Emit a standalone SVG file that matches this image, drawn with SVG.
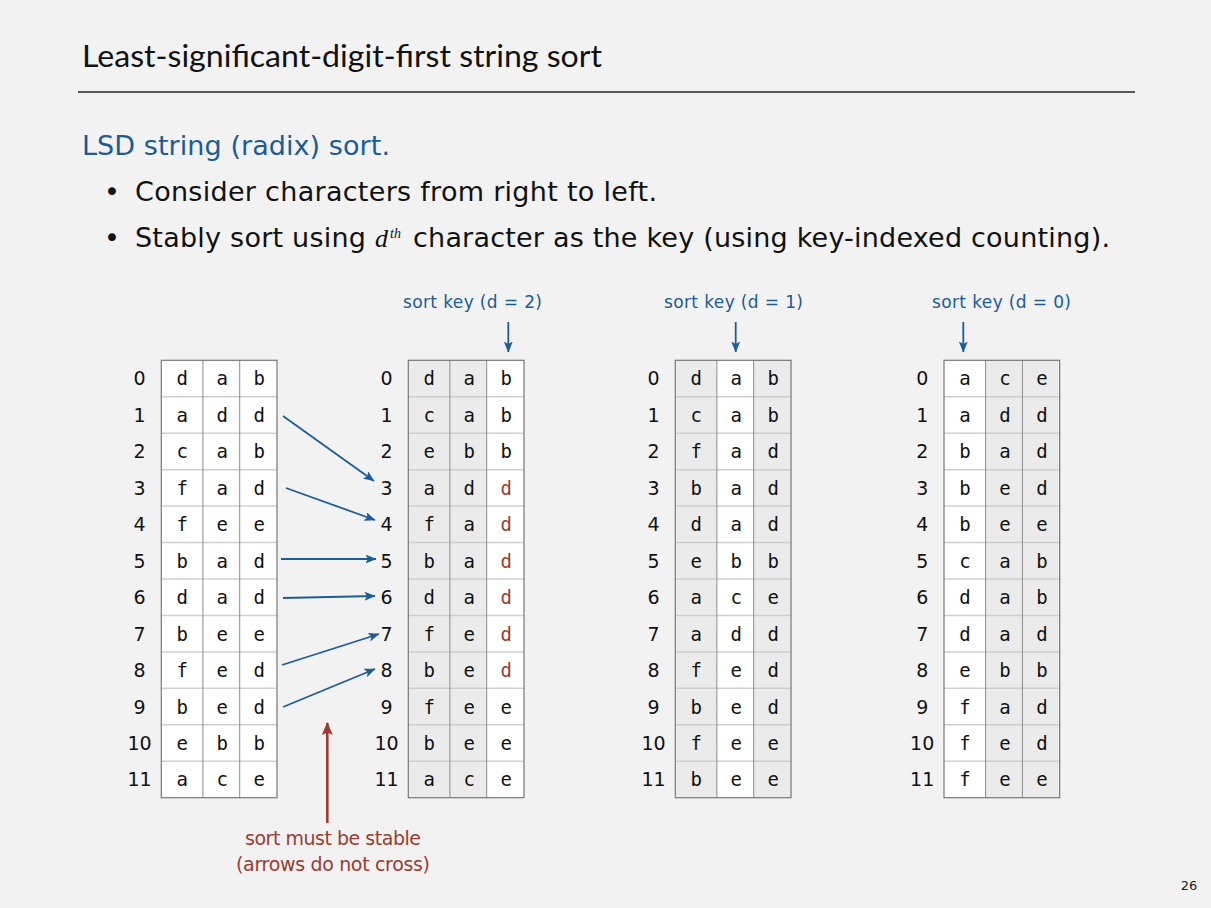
<svg xmlns="http://www.w3.org/2000/svg" width="1211" height="908" viewBox="0 0 1211 908">
  <style>
    .title { font-family: Lato, "Liberation Sans", sans-serif; font-size: 31px; fill: #111; }
    .body { font-family: "DejaVu Sans", "Liberation Sans", sans-serif; font-size: 27px; fill: #111; }
    .head { font-family: "DejaVu Sans", "Liberation Sans", sans-serif; font-size: 27px; fill: #1b5b96; }
    .ital { font-family: "Liberation Serif", serif; font-style: italic; fill: #111; }
    .key { font-family: "DejaVu Sans", "Liberation Sans", sans-serif; font-size: 17px; fill: #1b5b96; text-anchor: middle; }
    .note { font-family: "DejaVu Sans", "Liberation Sans", sans-serif; font-size: 19px; fill: #9c3b2f; text-anchor: middle; }
    .idx { font-family: "DejaVu Sans", "Liberation Sans", sans-serif; font-size: 19px; fill: #111; text-anchor: middle; }
    .ch { font-family: "DejaVu Sans Mono", "Liberation Mono", monospace; font-size: 19px; fill: #111; text-anchor: middle; }
    .red { fill: #9c3b2f; }
    .white { fill: #ffffff; }
    .gray { fill: #ebebeb; }
    .hline { stroke: #cfcfcf; stroke-width: 1.5; }
    .vline { stroke: #8c8c8c; stroke-width: 1; }
    .frame { fill: none; stroke: #777; stroke-width: 1.2; }
    .blue-arrow { stroke: #1c5c99; stroke-width: 1.8; fill: none; marker-end: url(#blueHead); }
    .red-arrow { stroke: #9c3b2f; stroke-width: 2.6; fill: none; marker-end: url(#redHead); }
  </style>
  <defs>
    <marker id="blueHead" markerUnits="userSpaceOnUse" markerWidth="14" markerHeight="10" refX="10.5" refY="4.5" orient="auto">
      <path d="M0,0 L11,4.5 L0,9 L2.5,4.5 z" fill="#1c5c99"/>
    </marker>
    <marker id="redHead" markerUnits="userSpaceOnUse" markerWidth="16" markerHeight="12" refX="12" refY="5.5" orient="auto">
      <path d="M0,0 L13,5.5 L0,11 L2.5,5.5 z" fill="#9c3b2f"/>
    </marker>
    <!-- table grid: 3 columns x 12 rows, row height 36.45 -->
    <g id="grid">
      <g class="hline">
        <line x1="0" y1="36.45" x2="115.7" y2="36.45"/>
        <line x1="0" y1="72.9" x2="115.7" y2="72.9"/>
        <line x1="0" y1="109.35" x2="115.7" y2="109.35"/>
        <line x1="0" y1="145.8" x2="115.7" y2="145.8"/>
        <line x1="0" y1="182.25" x2="115.7" y2="182.25"/>
        <line x1="0" y1="218.7" x2="115.7" y2="218.7"/>
        <line x1="0" y1="255.15" x2="115.7" y2="255.15"/>
        <line x1="0" y1="291.6" x2="115.7" y2="291.6"/>
        <line x1="0" y1="328.05" x2="115.7" y2="328.05"/>
        <line x1="0" y1="364.5" x2="115.7" y2="364.5"/>
        <line x1="0" y1="400.95" x2="115.7" y2="400.95"/>
      </g>
      <g class="vline">
        <line x1="41.6" y1="0" x2="41.6" y2="437.4"/>
        <line x1="78.4" y1="0" x2="78.4" y2="437.4"/>
      </g>
      <rect class="frame" x="0" y="0" width="115.7" height="437.4"/>
    </g>
    <g id="index">
      <text x="-21.8" y="25.2">0</text>
      <text x="-21.8" y="61.65">1</text>
      <text x="-21.8" y="98.1">2</text>
      <text x="-21.8" y="134.55">3</text>
      <text x="-21.8" y="171">4</text>
      <text x="-21.8" y="207.45">5</text>
      <text x="-21.8" y="243.9">6</text>
      <text x="-21.8" y="280.35">7</text>
      <text x="-21.8" y="316.8">8</text>
      <text x="-21.8" y="353.25">9</text>
      <text x="-21.8" y="389.7">10</text>
      <text x="-21.8" y="426.15">11</text>
    </g>
  </defs>

  <rect width="1211" height="908" fill="#f2f2f2"/>

  <!-- heading and rule -->
  <text class="title" x="82" y="67" textLength="520" lengthAdjust="spacingAndGlyphs">Least-significant-digit-first string sort</text>
  <line x1="78" y1="92" x2="1135" y2="92" stroke="#222" stroke-width="1.3"/>

  <text class="head" x="82" y="155" textLength="308">LSD string (radix) sort.</text>
  <text class="body" x="112" y="201" text-anchor="middle">•</text>
  <text class="body" x="135" y="201" textLength="522">Consider characters from right to left.</text>
  <text class="body" x="112" y="247" text-anchor="middle">•</text>
  <text class="body" x="135" y="247" textLength="231">Stably sort using</text>
  <text class="ital" x="375" y="247" font-size="26">d</text>
  <text class="ital" x="390" y="238" font-size="14">th</text>
  <text class="body" x="413" y="247" textLength="697">character as the key (using key-indexed counting).</text>

  <!-- table 0: input -->
  <g id="table-input" transform="translate(161.3,360.3)">
    <rect class="white" x="0" y="0" width="115.7" height="437.4"/>
    <use href="#grid"/>
    <use href="#index" class="idx"/>
    <g class="ch">
      <text x="21" y="25.2">d</text><text x="61" y="25.2">a</text><text x="98" y="25.2">b</text>
      <text x="21" y="61.65">a</text><text x="61" y="61.65">d</text><text x="98" y="61.65">d</text>
      <text x="21" y="98.1">c</text><text x="61" y="98.1">a</text><text x="98" y="98.1">b</text>
      <text x="21" y="134.55">f</text><text x="61" y="134.55">a</text><text x="98" y="134.55">d</text>
      <text x="21" y="171">f</text><text x="61" y="171">e</text><text x="98" y="171">e</text>
      <text x="21" y="207.45">b</text><text x="61" y="207.45">a</text><text x="98" y="207.45">d</text>
      <text x="21" y="243.9">d</text><text x="61" y="243.9">a</text><text x="98" y="243.9">d</text>
      <text x="21" y="280.35">b</text><text x="61" y="280.35">e</text><text x="98" y="280.35">e</text>
      <text x="21" y="316.8">f</text><text x="61" y="316.8">e</text><text x="98" y="316.8">d</text>
      <text x="21" y="353.25">b</text><text x="61" y="353.25">e</text><text x="98" y="353.25">d</text>
      <text x="21" y="389.7">e</text><text x="61" y="389.7">b</text><text x="98" y="389.7">b</text>
      <text x="21" y="426.15">a</text><text x="61" y="426.15">c</text><text x="98" y="426.15">e</text>
    </g>
  </g>

  <!-- table 1: sorted on d = 2 -->
  <g id="table-d2" transform="translate(408.3,360.3)">
    <rect class="gray" x="0" y="0" width="78.4" height="437.4"/>
    <rect class="white" x="78.4" y="0" width="37.3" height="437.4"/>
    <use href="#grid"/>
    <use href="#index" class="idx"/>
    <g class="ch">
      <text x="21" y="25.2">d</text><text x="61" y="25.2">a</text><text x="98" y="25.2">b</text>
      <text x="21" y="61.65">c</text><text x="61" y="61.65">a</text><text x="98" y="61.65">b</text>
      <text x="21" y="98.1">e</text><text x="61" y="98.1">b</text><text x="98" y="98.1">b</text>
      <text x="21" y="134.55">a</text><text x="61" y="134.55">d</text><text class="red" x="98" y="134.55">d</text>
      <text x="21" y="171">f</text><text x="61" y="171">a</text><text class="red" x="98" y="171">d</text>
      <text x="21" y="207.45">b</text><text x="61" y="207.45">a</text><text class="red" x="98" y="207.45">d</text>
      <text x="21" y="243.9">d</text><text x="61" y="243.9">a</text><text class="red" x="98" y="243.9">d</text>
      <text x="21" y="280.35">f</text><text x="61" y="280.35">e</text><text class="red" x="98" y="280.35">d</text>
      <text x="21" y="316.8">b</text><text x="61" y="316.8">e</text><text class="red" x="98" y="316.8">d</text>
      <text x="21" y="353.25">f</text><text x="61" y="353.25">e</text><text x="98" y="353.25">e</text>
      <text x="21" y="389.7">b</text><text x="61" y="389.7">e</text><text x="98" y="389.7">e</text>
      <text x="21" y="426.15">a</text><text x="61" y="426.15">c</text><text x="98" y="426.15">e</text>
    </g>
  </g>

  <!-- table 2: sorted on d = 1 -->
  <g id="table-d1" transform="translate(675.3,360.3)">
    <rect class="gray" x="0" y="0" width="41.6" height="437.4"/>
    <rect class="white" x="41.6" y="0" width="36.8" height="437.4"/>
    <rect class="gray" x="78.4" y="0" width="37.3" height="437.4"/>
    <use href="#grid"/>
    <use href="#index" class="idx"/>
    <g class="ch">
      <text x="21" y="25.2">d</text><text x="61" y="25.2">a</text><text x="98" y="25.2">b</text>
      <text x="21" y="61.65">c</text><text x="61" y="61.65">a</text><text x="98" y="61.65">b</text>
      <text x="21" y="98.1">f</text><text x="61" y="98.1">a</text><text x="98" y="98.1">d</text>
      <text x="21" y="134.55">b</text><text x="61" y="134.55">a</text><text x="98" y="134.55">d</text>
      <text x="21" y="171">d</text><text x="61" y="171">a</text><text x="98" y="171">d</text>
      <text x="21" y="207.45">e</text><text x="61" y="207.45">b</text><text x="98" y="207.45">b</text>
      <text x="21" y="243.9">a</text><text x="61" y="243.9">c</text><text x="98" y="243.9">e</text>
      <text x="21" y="280.35">a</text><text x="61" y="280.35">d</text><text x="98" y="280.35">d</text>
      <text x="21" y="316.8">f</text><text x="61" y="316.8">e</text><text x="98" y="316.8">d</text>
      <text x="21" y="353.25">b</text><text x="61" y="353.25">e</text><text x="98" y="353.25">d</text>
      <text x="21" y="389.7">f</text><text x="61" y="389.7">e</text><text x="98" y="389.7">e</text>
      <text x="21" y="426.15">b</text><text x="61" y="426.15">e</text><text x="98" y="426.15">e</text>
    </g>
  </g>

  <!-- table 3: sorted on d = 0 -->
  <g id="table-d0" transform="translate(944,360.3)">
    <rect class="white" x="0" y="0" width="41.6" height="437.4"/>
    <rect class="gray" x="41.6" y="0" width="74.1" height="437.4"/>
    <use href="#grid"/>
    <use href="#index" class="idx"/>
    <g class="ch">
      <text x="21" y="25.2">a</text><text x="61" y="25.2">c</text><text x="98" y="25.2">e</text>
      <text x="21" y="61.65">a</text><text x="61" y="61.65">d</text><text x="98" y="61.65">d</text>
      <text x="21" y="98.1">b</text><text x="61" y="98.1">a</text><text x="98" y="98.1">d</text>
      <text x="21" y="134.55">b</text><text x="61" y="134.55">e</text><text x="98" y="134.55">d</text>
      <text x="21" y="171">b</text><text x="61" y="171">e</text><text x="98" y="171">e</text>
      <text x="21" y="207.45">c</text><text x="61" y="207.45">a</text><text x="98" y="207.45">b</text>
      <text x="21" y="243.9">d</text><text x="61" y="243.9">a</text><text x="98" y="243.9">b</text>
      <text x="21" y="280.35">d</text><text x="61" y="280.35">a</text><text x="98" y="280.35">d</text>
      <text x="21" y="316.8">e</text><text x="61" y="316.8">b</text><text x="98" y="316.8">b</text>
      <text x="21" y="353.25">f</text><text x="61" y="353.25">a</text><text x="98" y="353.25">d</text>
      <text x="21" y="389.7">f</text><text x="61" y="389.7">e</text><text x="98" y="389.7">d</text>
      <text x="21" y="426.15">f</text><text x="61" y="426.15">e</text><text x="98" y="426.15">e</text>
    </g>
  </g>

  <!-- sort key captions -->
  <g id="key-d2">
    <text class="key" x="472.5" y="308" textLength="139">sort key (d = 2)</text>
  </g>
  <g id="key-d1">
    <text class="key" x="733.5" y="308" textLength="139">sort key (d = 1)</text>
  </g>
  <g id="key-d0">
    <text class="key" x="1001.5" y="308" textLength="139">sort key (d = 0)</text>
  </g>

  <!-- stability note -->
  <g id="note">
    <text class="note" x="333" y="845" textLength="176">sort must be stable</text>
    <text class="note" x="333" y="871" textLength="194">(arrows do not cross)</text>
  </g>

  <text x="1189" y="890" text-anchor="middle" font-family="DejaVu Sans, sans-serif" font-size="13" fill="#222">26</text>

  <!-- connectors -->
  <g id="connectors">
    <line class="blue-arrow" x1="508.3" y1="322" x2="508.3" y2="352"/>
    <line class="blue-arrow" x1="735.7" y1="322" x2="735.7" y2="352"/>
    <line class="blue-arrow" x1="963.3" y1="322" x2="963.3" y2="352"/>

    <line class="blue-arrow" x1="283" y1="416" x2="374" y2="481"/>
    <line class="blue-arrow" x1="286" y1="488" x2="375" y2="520"/>
    <line class="blue-arrow" x1="281" y1="559" x2="376" y2="559"/>
    <line class="blue-arrow" x1="283" y1="598" x2="375" y2="596"/>
    <line class="blue-arrow" x1="282" y1="665" x2="379" y2="634"/>
    <line class="blue-arrow" x1="283" y1="707" x2="375" y2="669"/>

    <line class="red-arrow" x1="327.3" y1="823" x2="327.3" y2="723"/>
  </g>
</svg>
